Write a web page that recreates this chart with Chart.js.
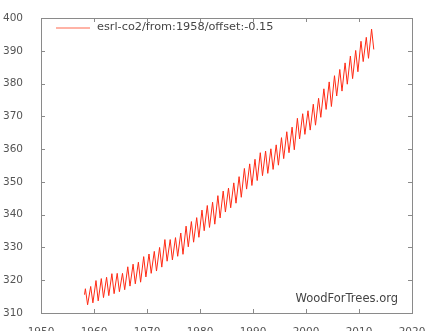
<!DOCTYPE html>
<html>
<head>
<meta charset="utf-8">
<script src="https://cdn.jsdelivr.net/npm/chart.js@4"></script>
<style>
  html, body { margin: 0; padding: 0; background: #fff; }
  #wrap { width: 425px; height: 331px; }
</style>
</head>
<body>
<div id="wrap"><canvas id="co2"></canvas></div>
<script>
// Mauna Loa CO2 (ppm): seasonal high (May) and low (Oct) per year
const years = [
  1958, 1959, 1960, 1961, 1962, 1963, 1964, 1965, 1966, 1967,
  1968, 1969, 1970, 1971, 1972, 1973, 1974, 1975, 1976, 1977,
  1978, 1979, 1980, 1981, 1982, 1983, 1984, 1985, 1986, 1987,
  1988, 1989, 1990, 1991, 1992, 1993, 1994, 1995, 1996, 1997,
  1998, 1999, 2000, 2001, 2002, 2003, 2004, 2005, 2006, 2007,
  2008, 2009, 2010, 2011, 2012,
];
const peaks = [
  317.4, 318.1, 319.9, 320.5, 320.9, 322.0, 322.1, 322.1, 324.1, 324.9,
  325.5, 327.2, 328.0, 328.8, 330.0, 332.4, 332.4, 333.0, 334.4, 336.5,
  337.9, 339.1, 341.4, 342.8, 343.8, 345.8, 347.2, 348.1, 349.7, 351.6,
  354.1, 355.5, 356.9, 358.9, 359.4, 360.1, 361.3, 363.5, 365.3, 366.7,
  369.4, 370.8, 371.7, 373.7, 375.5, 378.4, 380.5, 382.4, 384.3, 386.3,
  388.4, 390.1, 392.9, 394.1, 396.6,
];
const troughs = [
  312.5, 313.1, 313.7, 314.7, 315.3, 315.9, 316.5, 317.1, 318.2, 318.9,
  319.4, 321.0, 322.1, 322.8, 324.0, 325.8, 326.2, 327.3, 327.9, 330.2,
  331.6, 333.1, 335.1, 336.1, 337.1, 339.0, 340.8, 342.1, 343.5, 345.3,
  347.8, 348.9, 350.4, 351.9, 352.6, 353.8, 355.1, 357.1, 358.9, 359.8,
  363.1, 364.5, 365.8, 367.3, 369.7, 372.1, 373.0, 376.2, 377.7, 379.8,
  381.5, 383.6, 386.7, 387.7, 390.4,
];
const firstMonth = { year: 1958, month: 3, value: 315.6 };
const PEAK_MONTH = 5;
const TROUGH_MONTH = 10;

const xTicks = [1950, 1960, 1970, 1980, 1990, 2000, 2010, 2020];
const yTicks = [310, 320, 330, 340, 350, 360, 370, 380, 390, 400];
const seriesLabel = "esrl-co2/from:1958/offset:-0.15";
const credit = "WoodForTrees.org";

const AXIS = "#8a8a8a";
const TEXT = "#555";
const RED = "#ff2a14";
const FONT = "'DejaVu Sans', sans-serif";

const dec = (y, m) => y + (m - 0.5) / 12;
const points = [{ x: dec(firstMonth.year, firstMonth.month), y: firstMonth.value }];
years.forEach((y, i) => {
  points.push({ x: dec(y, PEAK_MONTH), y: peaks[i] });
  points.push({ x: dec(y, TROUGH_MONTH), y: troughs[i] });
});

// frame, inward ticks on all four sides, legend inside the plot and the credit line
const frame = {
  id: "frame",
  afterDatasetsDraw(chart) {
    const { ctx, chartArea: a, scales } = chart;
    ctx.save();
    ctx.strokeStyle = AXIS;
    ctx.lineWidth = 1;
    ctx.strokeRect(Math.round(a.left) + 0.5, Math.round(a.top) + 0.5,
      Math.round(a.right - a.left), Math.round(a.bottom - a.top));
    ctx.beginPath();
    xTicks.forEach((v) => {
      const px = Math.round(scales.x.getPixelForValue(v)) + 0.5;
      ctx.moveTo(px, a.bottom); ctx.lineTo(px, a.bottom - 4);
      ctx.moveTo(px, a.top); ctx.lineTo(px, a.top + 4);
    });
    yTicks.forEach((v) => {
      const py = Math.round(scales.y.getPixelForValue(v)) + 0.5;
      ctx.moveTo(a.left, py); ctx.lineTo(a.left + 4, py);
      ctx.moveTo(a.right, py); ctx.lineTo(a.right - 4, py);
    });
    ctx.stroke();

    // legend
    ctx.strokeStyle = "#ff9a88";
    ctx.lineWidth = 1.5;
    ctx.beginPath();
    ctx.moveTo(a.left + 15, a.top + 10);
    ctx.lineTo(a.left + 49, a.top + 10);
    ctx.stroke();
    ctx.fillStyle = "#444";
    ctx.font = "11.3px " + FONT;
    ctx.textAlign = "left";
    ctx.textBaseline = "middle";
    ctx.fillText(seriesLabel, a.left + 56, a.top + 9);

    ctx.font = "11.5px " + FONT;
    ctx.textAlign = "right";
    ctx.fillText(credit, a.right - 14, a.bottom - 14);
    ctx.restore();
  },
};

new Chart(document.getElementById("co2"), {
  type: "line",
  data: {
    datasets: [{
      label: seriesLabel,
      data: points,
      borderColor: RED,
      backgroundColor: RED,
      borderWidth: 1,
      pointRadius: 0,
      tension: 0,
    }],
  },
  options: {
    responsive: true,
    maintainAspectRatio: false,
    animation: false,
    layout: { padding: { top: 18, right: 13, left: 0, bottom: 0 } },
    plugins: {
      tooltip: { enabled: false },
      legend: { display: false },
    },
    scales: {
      x: {
        type: "linear",
        min: 1950, max: 2020,
        afterBuildTicks: (s) => { s.ticks = xTicks.map((v) => ({ value: v })); },
        afterFit: (s) => { s.height = 18; s.paddingRight = 0; s.paddingLeft = 0; },
        grid: { display: false },
        border: { display: false },
        ticks: { color: TEXT, font: { family: FONT, size: 10.5 }, padding: 5, callback: (v) => String(v) },
      },
      y: {
        min: 310, max: 400,
        afterBuildTicks: (s) => { s.ticks = yTicks.map((v) => ({ value: v })); },
        afterFit: (s) => { s.width = 41; s.paddingTop = 0; s.paddingBottom = 0; },
        grid: { display: false },
        border: { display: false },
        ticks: { color: TEXT, font: { family: FONT, size: 10.5 }, padding: 10 },
      },
    },
  },
  plugins: [frame],
});
</script>
</body>
</html>
